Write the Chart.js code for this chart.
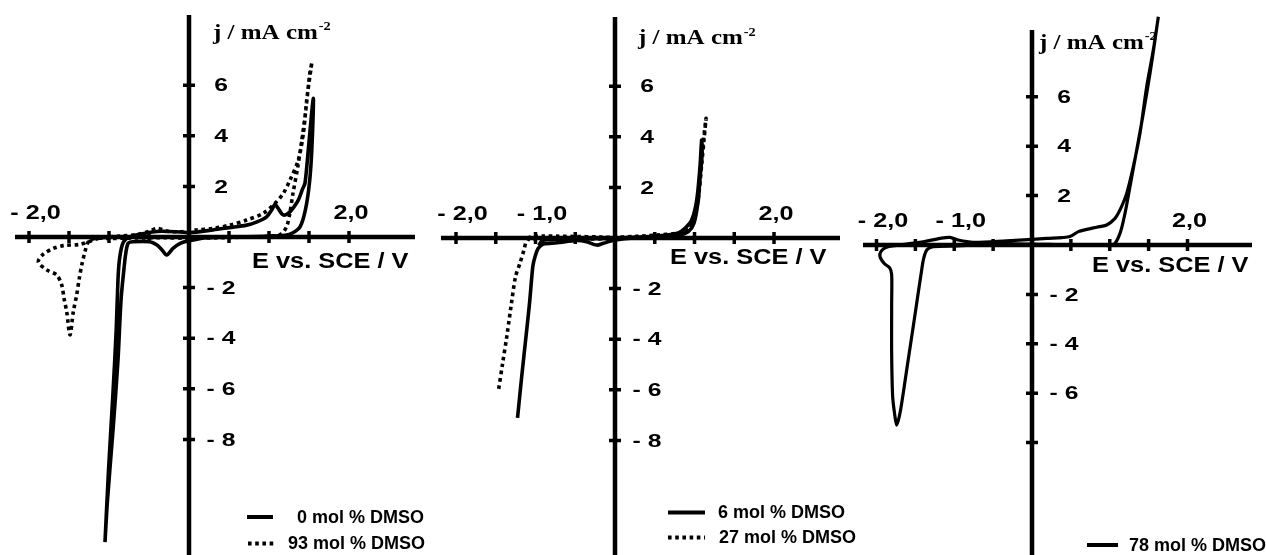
<!DOCTYPE html>
<html><head><meta charset="utf-8">
<script src="https://cdn.jsdelivr.net/npm/chart.js@4.4.1/dist/chart.umd.min.js"></script>
<style>
html,body{margin:0;padding:0;background:#fff;}
#wrap{position:relative;width:1266px;height:555px;overflow:hidden;background:#fff;}
canvas{position:absolute;left:0;top:0;}
</style></head><body>
<div id="wrap">
<canvas id="c1" width="1266" height="555"></canvas>
<canvas id="c2" width="1266" height="555"></canvas>
<canvas id="c3" width="1266" height="555"></canvas>
</div>
<script>
// ---------- DATA (E in V vs. SCE, j in mA cm-2) ----------
// Panel 1: 0 mol % DMSO (solid)
const p1SolidE = [-1.05,-1.006,-0.955,-0.91,-0.888,-0.87,-0.835,-0.79,-0.7,-0.55,-0.4,-0.25,-0.1,0.0,0.3,0.5,0.72,0.85,0.97,1.04,1.075,1.11,1.165,1.2,1.245,1.284,1.366,1.42,1.45,1.491,1.554,
  1.535,1.505,1.455,1.39,1.3,1.2,0.975,0.55,0.225,0.0,-0.11,-0.2,-0.28,-0.34,-0.4,-0.49,-0.7,-0.76,-0.79,-0.81,-0.85,-0.8875,-0.95,-1.019,-1.05];
const p1SolidJ = [-12.06,-9.21,-6.44,-3.68,-1.7,-0.91,-0.32,-0.08,0.05,0.15,0.22,0.22,0.2,0.17,0.28,0.37,0.47,0.6,0.8,1.1,1.29,1.15,0.9,0.87,0.95,1.07,1.46,1.9,2.13,3.44,5.48,
  3.44,2.12,1.07,0.41,0.17,0.07,0.03,0.0,-0.03,-0.15,-0.25,-0.45,-0.71,-0.5,-0.32,-0.19,-0.19,-0.25,-0.64,-1.17,-2.5,-4.86,-7.63,-10.4,-12.06];
// Panel 1: 93 mol % DMSO (dotted)
const p1DotE = [1.534,1.471,1.43,1.366,1.2625,1.18,1.075,0.929,0.72,0.51,0.3,0.096,-0.11,-0.25,-0.4,-0.5,-0.65,-0.85,-1.0,-1.1125,-1.196,-1.3625,-1.571,-1.696,-1.821,-1.884,-1.779,-1.654,-1.591,-1.5625,-1.529,-1.4875,
  -1.446,-1.404,-1.371,-1.341,-1.3,-1.259,-1.175,-1.0,-0.7,-0.3,0.0,0.5,1.0,1.15,1.22,1.26,1.3,1.36,1.41,1.46,1.51,1.534];
const p1DotJ = [6.86,5.41,4.1,3.04,2.25,1.73,1.33,0.94,0.67,0.47,0.34,0.28,0.21,0.22,0.34,0.22,0.1,0.04,0.0,-0.04,-0.12,-0.29,-0.34,-0.45,-0.68,-0.98,-1.3,-1.5,-1.9,-2.42,-2.95,-3.87,
  -2.95,-2.29,-1.63,-1.11,-0.58,-0.19,-0.06,-0.06,-0.04,-0.03,-0.05,-0.02,0.03,0.12,0.41,0.94,1.73,2.78,3.83,5.02,6.47,6.86];
// Panel 2: 6 mol % DMSO (solid)
const p2SolidE = [-0.96,-0.92,-0.85,-0.7,-0.5,-0.3,0.0,0.3,0.55,0.7,0.8,0.88,0.965,1.028,1.069,1.09,
  1.095,1.065,1.048,0.994,0.922,0.82,0.65,0.31,0.0,-0.147,-0.23,-0.356,-0.48,-0.73,-0.9,-0.965,-1.006,-1.031,-1.05,-1.075,-1.12,-1.174,-1.226];
const p2SolidJ = [-0.3,-0.12,-0.06,-0.05,-0.04,-0.03,0.0,0.04,0.09,0.14,0.2,0.38,0.71,1.5,2.82,3.87,
  3.3,2.2,1.5,0.58,0.25,0.12,0.06,0.01,-0.08,-0.21,-0.28,-0.15,-0.1,-0.19,-0.24,-0.41,-0.74,-1.07,-1.66,-2.57,-3.91,-5.49,-7.11];
// Panel 2: 27 mol % DMSO (dotted)
const p2DotE = [-1.1,-1.05,-0.9,-0.7,-0.5,-0.2,0.0,0.3,0.52,0.776,0.92,0.994,1.048,1.078,1.11,1.145,
  1.12,1.09,1.06,1.02,0.96,0.88,0.7,0.3,0.0,-0.3,-0.7,-1.0,-1.08,-1.111,-1.145,-1.195,-1.252,-1.302,-1.362,-1.413,-1.469];
const p2DotJ = [-0.02,0.06,0.08,0.07,0.06,0.04,0.03,0.07,0.12,0.19,0.38,0.84,1.63,2.82,3.8,4.73,
  3.9,2.9,1.9,1.1,0.55,0.28,0.12,0.03,-0.02,-0.04,-0.04,-0.05,-0.06,-0.08,-0.47,-0.99,-1.54,-2.57,-3.91,-4.94,-6.09];
// Panel 3: 78 mol % DMSO (solid)
const p3SolidE = [1.625,1.56,1.475,1.389,1.303,1.218,1.132,1.068,0.96,0.832,0.703,0.596,0.489,0.382,0.189,0.0,-0.325,-0.755,-0.95,-1.055,-1.18,-1.4,-1.61,-1.87,-1.94,-1.955,-1.9,-1.83,-1.805,-1.805,-1.805,-1.792,-1.762,-1.74,
  -1.707,-1.676,-1.612,-1.547,-1.483,-1.419,-1.398,-1.354,-1.27,-0.968,-0.6,-0.3,0.0,0.5,0.9,1.046,1.132,1.196,1.26,1.347,1.432,1.518,1.582,1.625];
const p3SolidJ = [9.24,7.89,6.41,4.52,3.17,2.09,1.42,1.08,0.81,0.72,0.63,0.54,0.34,0.3,0.27,0.23,0.17,0.11,0.2,0.31,0.27,0.13,0.04,-0.09,-0.25,-0.47,-0.75,-0.93,-1.2,-2.36,-4.38,-6.14,-6.95,-7.29,
  -6.95,-6.41,-5.06,-3.71,-2.36,-1.01,-0.61,-0.2,-0.07,-0.04,0.02,0.05,0.04,0.0,0.0,0.0,0.47,1.28,2.36,3.85,5.33,6.95,8.3,9.24];

// ---------- TICKS & TEXT ----------
const xTickValues = [-2,-1.5,-1,-0.5,0.5,1,1.5,2];
const yTickValues = [-8,-6,-4,-2,2,4,6];
const p1XLabelValues = [-2,2];
const p1XLabelTexts = ['- 2,0','2,0'];
const p23XLabelValues = [-2,-1,2];
const p23XLabelTexts = ['- 2,0','- 1,0','2,0'];
const yLabelValues = [6,4,2,-2,-4,-6,-8];
const yLabelTexts = ['6','4','2','- 2','- 4','- 6','- 8'];
const p3YLabelValues = [6,4,2,-2,-4,-6];
const p3YLabelTexts = ['6','4','2','- 2','- 4','- 6'];
const xTitle = 'E vs. SCE / V';
const yTitle = 'j / mA cm';
const yTitleSup = '-2';
const legend1 = ['0 mol % DMSO','93 mol % DMSO'];
const legend2 = ['6 mol % DMSO','27 mol % DMSO'];
const legend3 = ['78 mol % DMSO'];

const toPts = (E, J) => E.map((e, i) => ({x: e, y: J[i]}));
const DOT = [3.6, 3.6];

const cvAxes = {
  id: 'cvAxes',
  beforeDatasetsDraw(chart, args, o) {
    const ctx = chart.ctx, xs = chart.scales.x, ys = chart.scales.y, ca = chart.chartArea;
    const ax = xs.getPixelForValue(0), ay = ys.getPixelForValue(0);
    ctx.save();
    ctx.strokeStyle = '#000';
    ctx.lineWidth = 4.5;
    ctx.beginPath();
    ctx.moveTo(ca.left, ay); ctx.lineTo(ca.right, ay);
    ctx.moveTo(ax, ca.top); ctx.lineTo(ax, ca.bottom);
    ctx.stroke();
    ctx.lineWidth = 3.5;
    ctx.beginPath();
    o.xTicks.forEach(v => { const p = xs.getPixelForValue(v); ctx.moveTo(p, ay - 6); ctx.lineTo(p, ay + 6); });
    o.yTicks.forEach(v => { const p = ys.getPixelForValue(v); ctx.moveTo(ax - 6, p); ctx.lineTo(ax + 6, p); });
    ctx.stroke();
    ctx.restore();
  },
  afterDatasetsDraw(chart, args, o) {
    const ctx = chart.ctx, xs = chart.scales.x, ys = chart.scales.y;
    const ax = xs.getPixelForValue(0), ay = ys.getPixelForValue(0);
    const st = (txt, x, y, font, sx, align, base) => {
      ctx.save(); ctx.translate(x, y); ctx.scale(sx, 1);
      ctx.font = font; ctx.textAlign = align; ctx.textBaseline = base; ctx.fillStyle = '#000';
      ctx.fillText(txt, 0, 0); ctx.restore();
    };
    o.xLabelValues.forEach((v, i) => {
      const p = xs.getPixelForValue(v) + (v < 0 ? 6.5 : 2);
      st(o.xLabelTexts[i], p, ay + o.xLabelDy, "bold 21px 'Liberation Sans'", 1.2, 'center', 'middle');
    });
    o.yLabelValues.forEach((v, i) => {
      const p = ys.getPixelForValue(v);
      st(o.yLabelTexts[i], ax + 32, p + 1, "bold 19px 'Liberation Sans'", 1.3, 'center', 'middle');
    });
    st(xTitle, o.titleX.x, o.titleX.y, "bold 21.5px 'Liberation Sans'", 1.18, 'left', 'alphabetic');
    ctx.save();
    ctx.font = "bold 20px 'Liberation Serif'";
    const w = ctx.measureText(yTitle).width * 1.25;
    ctx.restore();
    st(yTitle, o.titleY.x, o.titleY.y, "bold 20px 'Liberation Serif'", 1.25, 'left', 'alphabetic');
    st(yTitleSup, o.titleY.x + w + 1, o.titleY.y - 8.5, "bold 13px 'Liberation Serif'", 1.1, 'left', 'alphabetic');
    o.legend.forEach((it, i) => {
      const ds = chart.data.datasets[i];
      ctx.save();
      ctx.strokeStyle = '#000'; ctx.lineWidth = 4; ctx.setLineDash(ds.borderDash || []);
      ctx.beginPath(); ctx.moveTo(it.x1, it.y); ctx.lineTo(it.x2, it.y); ctx.stroke();
      ctx.restore();
      st(ds.label, it.tx, it.y + 1, "bold 18px 'Liberation Sans'", 1, 'left', 'middle');
    });
  }
};

function makeChart(id, datasets, area, range, opts) {
  return new Chart(document.getElementById(id), {
    type: 'scatter',
    data: { datasets },
    options: {
      responsive: false, animation: false,
      layout: { padding: { left: area.left, right: 1266 - area.right, top: area.top, bottom: 555 - area.bottom } },
      scales: {
        x: { type: 'linear', display: false, min: range.xmin, max: range.xmax },
        y: { type: 'linear', display: false, min: range.ymin, max: range.ymax }
      },
      plugins: { legend: { display: false }, tooltip: { enabled: false }, cvAxes: opts },
      elements: { point: { radius: 0 } }
    },
    plugins: [cvAxes]
  });
}

const lineDS = (label, E, J, dash, w) => ({
  label, data: toPts(E, J), showLine: true, borderColor: '#000', backgroundColor: '#000',
  borderWidth: w, borderDash: dash, tension: 0.3, pointRadius: 0, fill: false, clip: false,
  borderCapStyle: 'butt', borderJoinStyle: 'round'
});

makeChart('c1', [
  lineDS(legend1[0], p1SolidE, p1SolidJ, [], 3.6),
  lineDS(legend1[1], p1DotE, p1DotJ, DOT, 3.6)
], {left: 15, right: 415, top: 15, bottom: 555},
{xmin: -2.175, xmax: 2.825, ymin: -12.569, ymax: 8.775},
{ xTicks: xTickValues, yTicks: yTickValues, xLabelValues: p1XLabelValues, xLabelTexts: p1XLabelTexts, xLabelDy: -24,
  yLabelValues: yLabelValues, yLabelTexts: yLabelTexts,
  titleX: {x: 252, y: 268}, titleY: {x: 213, y: 38.5},
  legend: [{x1: 247, x2: 273, y: 517, tx: 297}, {x1: 248, x2: 276, y: 543.5, tx: 288}] });

makeChart('c2', [
  lineDS(legend2[0], p2SolidE, p2SolidJ, [], 3.6),
  lineDS(legend2[1], p2DotE, p2DotJ, DOT, 3.6)
], {left: 441, right: 840, top: 17, bottom: 555},
{xmin: -2.1887, xmax: 2.830, ymin: -12.530, ymax: 8.735},
{ xTicks: xTickValues, yTicks: yTickValues, xLabelValues: p23XLabelValues, xLabelTexts: p23XLabelTexts, xLabelDy: -24,
  yLabelValues: yLabelValues, yLabelTexts: yLabelTexts,
  titleX: {x: 670, y: 263.5}, titleY: {x: 638, y: 44},
  legend: [{x1: 668, x2: 705, y: 512.5, tx: 718}, {x1: 668, x2: 705, y: 537.5, tx: 719}] });

makeChart('c3', [
  lineDS(legend3[0], p3SolidE, p3SolidJ, [], 3.2)
], {left: 863, right: 1252, top: 30, bottom: 555},
{xmin: -2.1736, xmax: 2.8296, ymin: -12.551, ymax: 8.704},
{ xTicks: xTickValues, yTicks: yTickValues, xLabelValues: p23XLabelValues, xLabelTexts: p23XLabelTexts, xLabelDy: -23.5,
  yLabelValues: p3YLabelValues, yLabelTexts: p3YLabelTexts,
  titleX: {x: 1092, y: 272}, titleY: {x: 1039, y: 48.5},
  legend: [{x1: 1087, x2: 1118, y: 545, tx: 1129}] });
</script>
</body></html>
